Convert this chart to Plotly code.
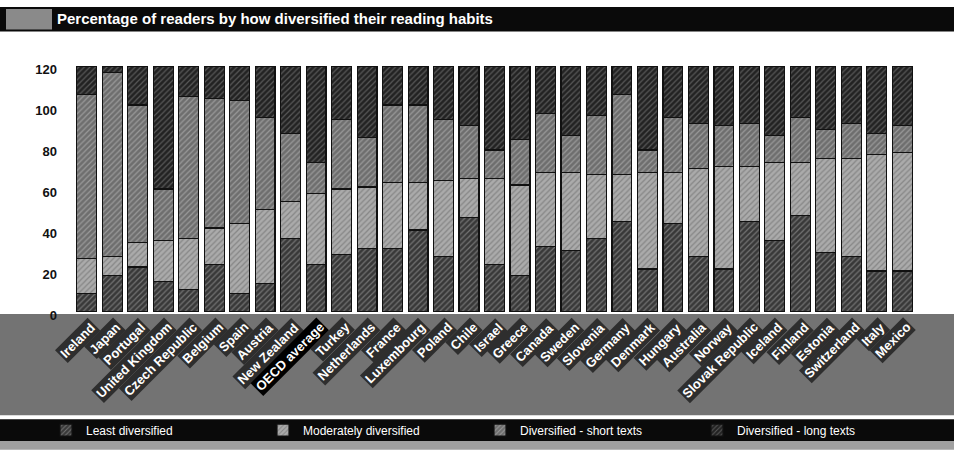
import plotly.graph_objects as go

countries = ["Ireland", "Japan", "Portugal", "United Kingdom", "Czech Republic", "Belgium",
             "Spain", "Austria", "New Zealand", "OECD average", "Turkey", "Netherlands",
             "France", "Luxembourg", "Poland", "Chile", "Israel", "Greece", "Canada",
             "Sweden", "Slovenia", "Germany", "Denmark", "Hungary", "Australia", "Norway",
             "Slovak Republic", "Iceland", "Finland", "Estonia", "Switzerland", "Italy", "Mexico"]

least = [9, 18, 22, 15, 11, 23, 9, 14, 36, 23, 28, 31, 31, 40, 27, 46, 23, 18, 32, 30, 36, 44,
         21, 43, 27, 21, 44, 35, 47, 29, 27, 20, 20]
moderate = [17, 9, 12, 20, 25, 18, 34, 36, 18, 35, 32, 30, 32, 23, 37, 19, 42, 44, 36, 38, 31,
            23, 47, 25, 43, 50, 27, 38, 26, 46, 48, 57, 58]
short_texts = [80, 90, 67, 25, 69, 63, 60, 45, 33, 15, 34, 24, 38, 38, 30, 26, 14, 22, 29, 18,
               29, 39, 11, 27, 22, 20, 21, 13, 22, 14, 17, 10, 13]
long_texts = [14, 3, 19, 60, 15, 16, 17, 25, 33, 47, 26, 35, 19, 19, 26, 29, 41, 36, 23, 34,
              24, 14, 41, 25, 28, 29, 28, 34, 25, 31, 28, 33, 29]

series_names = ["Least diversified", "Moderately diversified",
                "Diversified - short texts", "Diversified - long texts"]
y_ticks = [0, 20, 40, 60, 80, 100, 120]

styles = [
    dict(color="#383838", fg="#bbbbbb"),
    dict(color="#ababab", fg="#555555"),
    dict(color="#6e6e6e", fg="#d0d0d0"),
    dict(color="#222222", fg="#9a9a9a"),
]

fig = go.Figure()
for name, vals, st in zip(series_names, [least, moderate, short_texts, long_texts], styles):
    fig.add_trace(go.Bar(
        x=countries, y=vals, name=name,
        marker=dict(color=st["color"], line=dict(color="#111111", width=1.2),
                    pattern=dict(shape="/", fgcolor=st["fg"], fgopacity=0.45, size=4, solidity=0.3)),
    ))

W, H = 954, 456
L, R, T, B = 74, 39, 66, 140
PW, PH = W - L - R, H - T - B

def px_x(px):
    return (px - L) / PW

def px_y(py):
    return (H - B - py) / PH

shapes = [
    # title bar
    dict(type="rect", xref="paper", yref="paper", x0=px_x(0), x1=px_x(W), y0=px_y(31), y1=px_y(6),
         fillcolor="#0a0a0a", line=dict(width=0), layer="below"),
    dict(type="rect", xref="paper", yref="paper", x0=px_x(6), x1=px_x(52), y0=px_y(29), y1=px_y(8),
         fillcolor="#8a8a8a", line=dict(width=0), layer="below"),
    # category band
    dict(type="rect", xref="paper", yref="paper", x0=px_x(0), x1=px_x(W), y0=px_y(421), y1=px_y(318),
         fillcolor="#737373", line=dict(width=0), layer="below"),
    # legend bar
    dict(type="rect", xref="paper", yref="paper", x0=px_x(0), x1=px_x(W), y0=px_y(447), y1=px_y(425),
         fillcolor="#0a0a0a", line=dict(width=0), layer="below"),
    dict(type="rect", xref="paper", yref="paper", x0=px_x(0), x1=px_x(W), y0=px_y(456), y1=px_y(447),
         fillcolor="#a0a0a0", line=dict(width=0), layer="below"),
]

annotations = []
for c in countries:
    annotations.append(dict(
        x=c, xref="x", y=px_y(321), yref="paper", text="<b>%s</b>" % c, showarrow=False,
        textangle=-45, xanchor="right", yanchor="top", xshift=14,
        font=dict(family="Liberation Sans, Arial, sans-serif", size=13, color="#ffffff"),
        bgcolor="#000000" if c == "OECD average" else "#2e2e2e", borderpad=1,
    ))

fig.update_layout(
    width=W, height=H,
    margin=dict(l=L, r=R, t=T, b=B),
    paper_bgcolor="#ffffff", plot_bgcolor="#ffffff",
    barmode="stack", bargap=0.22,
    title=dict(text="<b>Percentage of readers by how diversified their reading habits</b>",
               x=57 / W, xanchor="left", y=1 - 18.5 / H, yanchor="middle",
               font=dict(family="Liberation Sans, Arial, sans-serif", size=15, color="#ffffff")),
    xaxis=dict(range=[-0.5, len(countries) - 0.5], autorange=False, showticklabels=False,
               showgrid=False, zeroline=False, showline=False, ticks=""),
    yaxis=dict(range=[0, 120], tickvals=y_ticks, showgrid=False, zeroline=False, showline=False,
               ticks="", ticklabelstandoff=16, ticklabelshift=3,
               tickfont=dict(family="Liberation Sans, Arial, sans-serif", size=13, color="#111111",
                             weight="bold")),
    legend=dict(orientation="h", x=px_x(46), xanchor="left", y=px_y(436), yanchor="middle",
                bgcolor="rgba(0,0,0,0)", entrywidth=172, entrywidthmode="pixels",
                traceorder="normal",
                font=dict(family="Liberation Sans, Arial, sans-serif", size=12, color="#ffffff")),
    shapes=shapes,
    annotations=annotations,
)

page_js = (
    "var s=document.createElement('style');"
    "s.textContent='html,body{margin:0;padding:0;overflow:hidden;}"
    ".plotly-graph-div{display:block;}';"
    "document.head.appendChild(s);"
    "var gd=document.getElementById('{plot_id}');"
    "var h=Math.max(window.innerHeight||456, document.documentElement.clientHeight||456);"
    "if(Math.abs(h-456)>1){var f=h/456;"
    "gd.style.height=h+'px';"
    "Plotly.relayout(gd,{height:h,'margin.t':66*f,'margin.b':140*f});}"
)

fig.write_html("out.html", config={"displayModeBar": False}, post_script=page_js)
